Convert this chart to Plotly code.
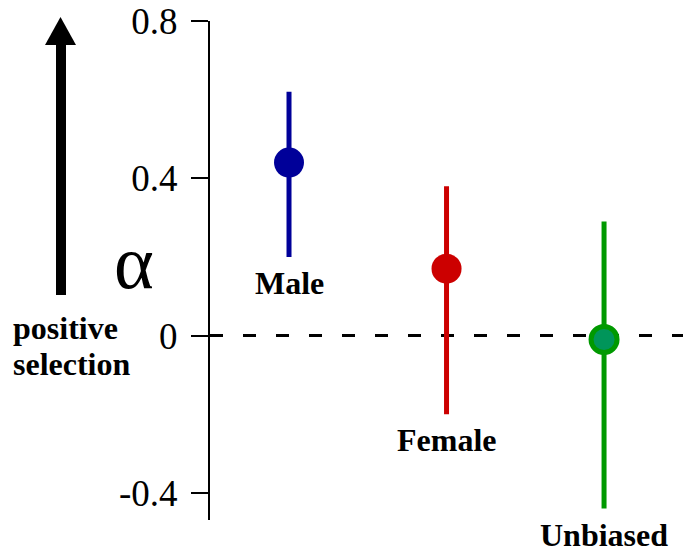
import plotly.graph_objects as go

categories = ["Male", "Female", "Unbiased"]
alpha = [0.44, 0.17, -0.01]
upper = [0.62, 0.38, 0.29]
lower = [0.20, -0.20, -0.44]
colors = ["#000099", "#CC0000", "#009900"]
fills = ["#000099", "#CC0000", "#00955A"]
tick_vals = [-0.4, 0, 0.4, 0.8]
tick_text = ["-0.4", "0", "0.4", "0.8"]

SERIF = "Tinos, Liberation Serif, DejaVu Serif, serif"

# page keeps an 8px body margin: figure pixel = window pixel - 8
W, H = 683, 548
L, T, R, B = 202, 13, 0, 36
PW, PH = W - L - R, H - T - B


def px(xw):
    return (xw - 8 - L) / PW


def py(yw):
    return (H - B - (yw - 8)) / PH


xs = [1, 2, 3]
fig = go.Figure()
for i, c in enumerate(categories):
    fig.add_trace(go.Scatter(
        x=[xs[i]], y=[alpha[i]], mode="markers",
        marker=dict(size=30 if i < 2 else 26, color=fills[i],
                    line=dict(color=colors[i], width=0 if i < 2 else 5)),
        error_y=dict(type="data", symmetric=False,
                     array=[upper[i] - alpha[i]], arrayminus=[alpha[i] - lower[i]],
                     color=colors[i], thickness=5, width=0),
        showlegend=False, cliponaxis=False))
    fig.add_annotation(x=xs[i], y=lower[i], text="<b>%s</b>" % c, showarrow=False,
                       yanchor="top", yshift=-6,
                       font=dict(family=SERIF, size=32, color="black"))

fig.add_hline(y=0, line=dict(color="black", width=3, dash="13px,20px"), layer="below")

fig.add_annotation(xref="paper", yref="paper", x=px(134), y=py(262), text="α", showarrow=False,
                   xanchor="center", yanchor="middle",
                   font=dict(family=SERIF, size=76, color="black"))
fig.add_annotation(xref="paper", yref="paper", x=px(11), y=py(328), text="<b>positive</b>",
                   showarrow=False, xanchor="left", yanchor="middle",
                   font=dict(family=SERIF, size=32, color="black"))
fig.add_annotation(xref="paper", yref="paper", x=px(11), y=py(364), text="<b>selection</b>",
                   showarrow=False, xanchor="left", yanchor="middle",
                   font=dict(family=SERIF, size=32, color="black"))
fig.add_shape(type="rect", xref="paper", yref="paper", x0=px(56), x1=px(66), y0=py(295), y1=py(44),
              fillcolor="black", line=dict(width=0))
fig.add_shape(type="path", xref="paper", yref="paper",
              path="M %f %f L %f %f L %f %f Z" % (px(45), py(45), px(76), py(45), px(60.5), py(17)),
              fillcolor="black", line=dict(width=0))

fig.update_layout(
    width=W, height=H, margin=dict(l=L, r=R, t=T, b=B, autoexpand=False),
    plot_bgcolor="white", paper_bgcolor="white",
    xaxis=dict(range=[0.4984, 3.552], visible=False, automargin=False),
    yaxis=dict(range=[-0.469, 0.8], tickvals=tick_vals, ticktext=tick_text, automargin=False,
               showgrid=False, zeroline=False, showline=True, linecolor="black", linewidth=2,
               ticks="outside", ticklen=17, tickwidth=2, tickcolor="black",
               ticklabelstandoff=6, ticklabeloverflow="allow",
               tickfont=dict(family=SERIF, size=37, color="black")),
)
fig.write_html("out.html")
